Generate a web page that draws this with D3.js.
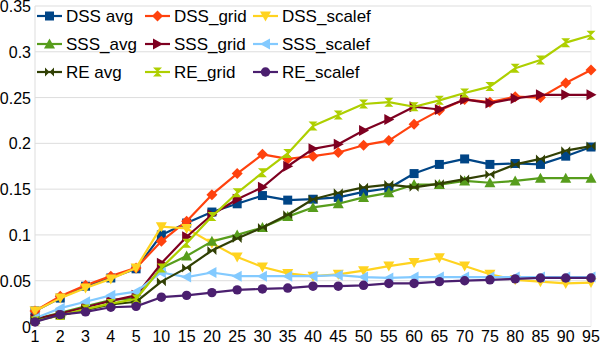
<!DOCTYPE html>
<html>
<head>
<meta charset="utf-8">
<script src="https://cdn.jsdelivr.net/npm/d3@7"></script>
<style>
  body { margin: 0; background: #fff; }
  text { font-family: "Liberation Sans", Arial, sans-serif; }
</style>
</head>
<body>
<svg id="chart" width="600" height="346"></svg>
<script>
// categories on the x axis
const cats = ["1","2","3","4","5","10","15","20","25","30","35","40","45","50","55","60","65","70","75","80","85","90","95"];
const yTicks = [0, 0.05, 0.1, 0.15, 0.2, 0.25, 0.3, 0.35];

// series values
const dssAvg    = [0.017,0.031,0.044,0.053,0.063,0.100,0.113,0.125,0.134,0.143,0.138,0.139,0.141,0.147,0.151,0.167,0.177,0.183,0.177,0.178,0.177,0.186,0.196];
const dssGrid   = [0.017,0.033,0.045,0.055,0.064,0.093,0.115,0.144,0.167,0.188,0.183,0.186,0.190,0.198,0.203,0.221,0.236,0.248,0.245,0.251,0.250,0.266,0.280];
const dssScalef = [0.017,0.031,0.042,0.052,0.064,0.109,0.107,0.091,0.076,0.065,0.058,0.055,0.057,0.061,0.066,0.070,0.075,0.066,0.057,0.051,0.049,0.047,0.048];
const sssAvg    = [0.008,0.015,0.022,0.029,0.031,0.064,0.077,0.093,0.100,0.108,0.120,0.130,0.134,0.141,0.146,0.155,0.155,0.159,0.157,0.159,0.162,0.162,0.162];
const sssGrid   = [0.008,0.014,0.021,0.028,0.034,0.069,0.098,0.122,0.139,0.152,0.175,0.194,0.199,0.214,0.226,0.240,0.237,0.248,0.244,0.249,0.253,0.253,0.253];
const sssScalef = [0.009,0.020,0.027,0.034,0.038,0.059,0.054,0.059,0.055,0.055,0.055,0.055,0.056,0.054,0.053,0.054,0.054,0.054,0.054,0.054,0.054,0.054,0.054];
const reAvg     = [0.007,0.012,0.018,0.024,0.027,0.049,0.064,0.083,0.096,0.108,0.122,0.139,0.146,0.152,0.155,0.152,0.156,0.161,0.166,0.177,0.183,0.192,0.197];
const reGrid    = [0.006,0.012,0.019,0.025,0.030,0.064,0.091,0.120,0.146,0.168,0.189,0.219,0.231,0.243,0.245,0.240,0.247,0.255,0.262,0.282,0.291,0.310,0.318];
const reScalef  = [0.005,0.013,0.016,0.021,0.022,0.032,0.034,0.037,0.040,0.041,0.042,0.044,0.044,0.045,0.047,0.047,0.049,0.050,0.051,0.052,0.053,0.053,0.053];

const names   = ["DSS avg","DSS_grid","DSS_scalef","SSS_avg","SSS_grid","SSS_scalef","RE avg","RE_grid","RE_scalef"];
const colors  = ["#004586","#ff420e","#ffd320","#579d1c","#7e0021","#83caff","#314004","#aecf00","#4b1f6f"];
const markers = ["square","diamond","down","up","right","left","bowtie","hourglass","circle"];
const values  = [dssAvg, dssGrid, dssScalef, sssAvg, sssGrid, sssScalef, reAvg, reGrid, reScalef];

const svg = d3.select("#chart");
const x = d3.scalePoint().domain(cats).range([35, 591]);
const y = d3.scaleLinear().domain([0, 0.35]).range([326.5, 6]);

// marker shapes
function markerPath(type) {
  const r = 4.5;
  switch (type) {
    case "square": return `M${-r},${-r}H${r}V${r}H${-r}Z`;
    case "diamond": return `M0,${-r-1}L${r+1},0L0,${r+1}L${-r-1},0Z`;
    case "up": return `M0,${-r-1}L${r+1},${r}L${-r-1},${r}Z`;
    case "down": return `M0,${r+1}L${r+1},${-r}L${-r-1},${-r}Z`;
    case "right": return `M${r+1},0L${-r},${r+1}L${-r},${-r-1}Z`;
    case "left": return `M${-r-1},0L${r},${r+1}L${r},${-r-1}Z`;
    case "bowtie": return `M${-r},${-r}L${r},${r}V${-r}L${-r},${r}Z`;
    case "hourglass": return `M${-r},${-r}H${r}L${-r},${r}H${r}Z`;
    case "circle": return d3.symbol(d3.symbolCircle, 70)();
  }
}

// gridlines
svg.append("g").selectAll("line").data(yTicks).join("line")
  .attr("x1", 35).attr("x2", 591)
  .attr("y1", d => y(d)).attr("y2", d => y(d))
  .attr("stroke", "#dddddd").attr("stroke-width", 1);
svg.append("line").attr("x1", 35).attr("x2", 35).attr("y1", y(0.35)).attr("y2", y(0))
  .attr("stroke", "#dddddd");
svg.append("line").attr("x1", 591).attr("x2", 591).attr("y1", y(0.35)).attr("y2", y(0))
  .attr("stroke", "#eeeeee");

// axis labels
svg.append("g").selectAll("text").data(yTicks).join("text")
  .attr("x", 31).attr("y", d => y(d) + 6)
  .attr("text-anchor", "end").attr("font-size", 16).attr("fill", "#000")
  .text(d => d3.format("")(d));
svg.append("g").selectAll("text").data(cats).join("text")
  .attr("x", d => x(d)).attr("y", 342)
  .attr("text-anchor", "middle").attr("font-size", 16).attr("fill", "#000")
  .text(d => d);

// lines and markers
const line = d3.line().x((d, i) => x(cats[i])).y(d => y(d));
values.forEach((vals, k) => {
  const g = svg.append("g");
  g.append("path").datum(vals).attr("d", line)
    .attr("fill", "none").attr("stroke", colors[k]).attr("stroke-width", 2.2)
    .attr("stroke-linejoin", "round");
  g.selectAll("path.m").data(vals).join("path").attr("class", "m")
    .attr("d", markerPath(markers[k]))
    .attr("transform", (d, i) => `translate(${x(cats[i])},${y(d)})`)
    .attr("fill", colors[k]);
});

// legend
const colX = [37, 145, 253];
const rowY = [16, 44, 72];
names.forEach((n, k) => {
  const cx = colX[k % 3], cy = rowY[Math.floor(k / 3)];
  const g = svg.append("g");
  g.append("line").attr("x1", cx).attr("x2", cx + 25).attr("y1", cy).attr("y2", cy)
    .attr("stroke", colors[k]).attr("stroke-width", 2.2);
  g.append("path").attr("d", markerPath(markers[k]))
    .attr("transform", `translate(${cx + 12.5},${cy})`).attr("fill", colors[k]);
  g.append("text").attr("x", cx + 29).attr("y", cy + 6)
    .attr("font-size", 17).attr("fill", "#000").text(n);
});
</script>
</body>
</html>
